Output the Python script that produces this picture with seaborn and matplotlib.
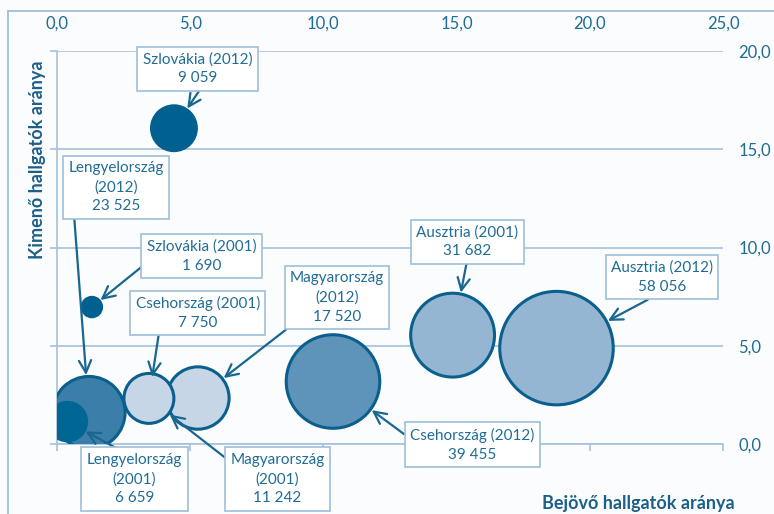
import numpy as np
import pandas as pd
import matplotlib
matplotlib.use("Agg")
import matplotlib.pyplot as plt
from matplotlib.patches import Rectangle
import seaborn as sns

# bubble data: incoming ratio (x), outgoing ratio (y), number of students (size)
labels = ["Csehország (2012)", "Ausztria (2012)", "Ausztria (2001)", "Lengyelország (2012)",
          "Magyarország (2012)", "Csehország (2001)", "Magyarország (2001)",
          "Szlovákia (2012)", "Szlovákia (2001)", "Lengyelország (2001)"]
bejovo = [10.36, 18.75, 14.85, 1.20, 5.29, 3.45, 3.45, 4.39, 1.31, 0.39]
kimeno = [3.18, 4.88, 5.54, 1.60, 2.34, 2.30, 2.32, 16.07, 6.97, 1.14]
letszam = [39455, 58056, 31682, 23525, 17520, 7750, 11242, 9059, 1690, 6659]

# label text shown in the boxes
box_text = ["Csehország (2012)\n39 455", "Ausztria (2012)\n58 056", "Ausztria (2001)\n31 682",
            "Lengyelország\n(2012)\n23 525", "Magyarország\n(2012)\n17 520",
            "Csehország (2001)\n7 750", "Magyarország\n(2001)\n11 242",
            "Szlovákia (2012)\n9 059", "Szlovákia (2001)\n1 690", "Lengyelország\n(2001)\n6 659"]
box_x = [15.58, 22.71, 15.41, 2.21, 10.51, 5.29, 8.28, 5.27, 5.42, 2.91]
box_y = [-0.03, 8.49, 10.30, 13.07, 7.45, 6.66, -1.78, 19.10, 9.56, -1.78]
box_rel = [(0.03, 0.6), (0.47, 0.0), (0.5, 0.0), (0.06, 0.0), (0.06, 0.03),
           (0.19, 0.0), (0.02, 0.8), (0.55, 0.0), (0.0, 0.3), (0.5, 0.9)]

fills = {"Csehország (2012)": "#5E94BA", "Ausztria (2012)": "#94B6D2", "Ausztria (2001)": "#94B6D2",
         "Lengyelország (2012)": "#3B7EA9", "Magyarország (2012)": "#C6D6E6",
         "Magyarország (2001)": "#C6D6E6", "Csehország (2001)": "#C6D6E6",
         "Szlovákia (2012)": "#00608F", "Szlovákia (2001)": "#00608F", "Lengyelország (2001)": "#006794"}
dark = "#0B5F8C"
txt_col = "#1F6C96"
line_col = "#A6C2D9"

df = pd.DataFrame({"label": labels, "x": bejovo, "y": kimeno, "n": letszam})

k = 0.115  # marker area per student (pt^2)
nmax = max(letszam)

sns.set_style("white")
plt.rcParams["font.family"] = ["Lato", "DejaVu Sans"]

fig = plt.figure(figsize=(7.74, 5.14), dpi=100, facecolor="#FBFCFE")
ax = fig.add_axes([57 / 774, 70 / 514, 666 / 774, 393 / 514])
ax.set_facecolor("#FBFCFE")

sns.scatterplot(data=df, x="x", y="y", hue="label", palette=fills, size="n",
                sizes=(0, k * nmax), size_norm=(0, nmax), legend=False, ax=ax,
                linewidth=2.2, alpha=1, zorder=3)
coll = ax.collections[0]
edges = [fills[l] if fills[l] in ("#00608F", "#006794") else dark for l in labels]
coll.set_edgecolors(edges)

ax.set_xlim(0, 25)
ax.set_ylim(0, 20)
ax.set_xticks(np.arange(0, 26, 5))
ax.set_yticks(np.arange(0, 21, 5))
fmt = lambda v: f"{v:.1f}".replace(".", ",")
ax.set_xticklabels([fmt(v) for v in np.arange(0, 26, 5)])
ax.set_yticklabels([fmt(v) for v in np.arange(0, 21, 5)])
ax.tick_params(axis="x", bottom=True, top=False, labelbottom=False, labeltop=True,
               direction="out", length=5, width=1.2, color=line_col, pad=9,
               labelsize=12, labelcolor=txt_col)
ax.tick_params(axis="y", left=True, right=False, labelleft=False, labelright=True,
               direction="out", length=5, width=1.2, color=line_col, pad=6,
               labelsize=12, labelcolor=txt_col)
ax.grid(axis="y", color=line_col, lw=1.2)
ax.grid(axis="x", visible=False)
for s in ["top", "right"]:
    ax.spines[s].set_visible(False)
for s in ["left", "bottom"]:
    ax.spines[s].set_color(line_col)
    ax.spines[s].set_linewidth(1.2)
ax.set_xlabel("")
ax.set_ylabel("")
ax.set_axisbelow(True)

sizes = dict(zip(labels, letszam))
for i, l in enumerate(labels):
    r_pt = np.sqrt(k * sizes[l]) / 2
    ax.annotate(box_text[i], xy=(bejovo[i], kimeno[i]), xytext=(box_x[i], box_y[i]),
                ha="center", va="center", fontsize=11, color=txt_col, linespacing=1.45,
                annotation_clip=False, zorder=5,
                bbox=dict(boxstyle="square,pad=0.35", fc="white", ec="#9DBFD9", lw=1.2),
                arrowprops=dict(arrowstyle="->,head_length=0.8,head_width=0.4", color="#17678F",
                                lw=1.6, shrinkA=0, shrinkB=r_pt + 1, relpos=box_rel[i]))

fig.text(38 / 774, 1 - 160 / 514, "Kimenő hallgatók aránya", rotation=90, ha="center",
         va="center", fontsize=13, fontweight="bold", color="#1C5F88")
fig.text(735 / 774, 1 - 503 / 514, "Bejövő hallgatók aránya", ha="right", va="center",
         fontsize=13, fontweight="bold", color="#1C5F88")

fig.add_artist(Rectangle((8 / 774, -0.1), 1.2, 1.1 - 11 / 514, transform=fig.transFigure,
                         fill=False, ec="#9DBFD9", lw=1.3))

fig.savefig("out.png", dpi=100, facecolor=fig.get_facecolor())
